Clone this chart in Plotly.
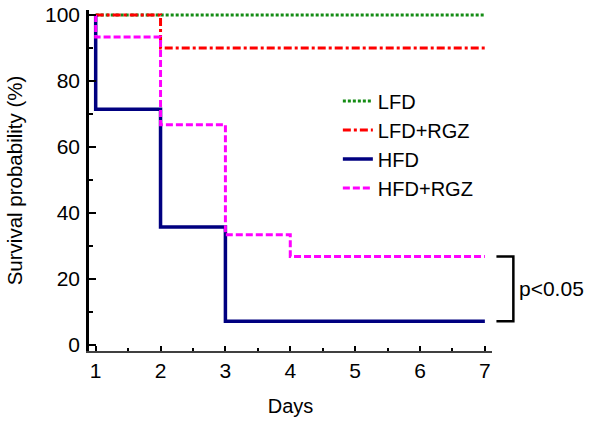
import plotly.graph_objects as go

# ---- data (Kaplan-Meier step curves) ----
lfd_days = [1, 7]
lfd_surv = [100, 100]

lfd_rgz_days = [1, 2, 7]
lfd_rgz_surv = [100, 90, 90]

hfd_days = [1, 1, 2, 3, 7]
hfd_surv = [100, 71.4, 35.7, 7.1, 7.1]

hfd_rgz_days = [1, 1, 2, 3, 4, 7]
hfd_rgz_surv = [100, 93.3, 66.7, 33.3, 26.7, 26.7]

x_ticks = [1, 2, 3, 4, 5, 6, 7]
y_ticks = [0, 20, 40, 60, 80, 100]
p_label = "p<0.05"

FONT = "Arial, 'Liberation Sans', sans-serif"

series = [
    ("LFD", lfd_days, lfd_surv, "#148c14", "3px,2px", 3),
    ("LFD+RGZ", lfd_rgz_days, lfd_rgz_surv, "#ff0000", "8px,3px,3px,3px", 3),
    ("HFD", hfd_days, hfd_surv, "#000080", "solid", 3.5),
    ("HFD+RGZ", hfd_rgz_days, hfd_rgz_surv, "#ff00ff", "7px,3px", 3),
]

fig = go.Figure()
for name, xs, ys, col, dash, w in series:
    fig.add_trace(go.Scatter(
        x=xs, y=ys, mode="lines", name=name, legendgroup=name,
        line=dict(color=col, dash=dash, width=w, shape="hv"),
    ))

# bracket for significance between HFD and HFD+RGZ end points
y_top = hfd_rgz_surv[-1]
y_bot = hfd_surv[-1]
bx0, bx1 = 1.011, 1.053
fig.add_shape(type="path", xref="paper", yref="y",
              path=f"M {bx0},{y_top} L {bx1},{y_top} L {bx1},{y_bot} L {bx0},{y_bot}",
              line=dict(color="black", width=2.5))
fig.add_annotation(x=1.063, xref="paper", y=(y_top + y_bot) / 2, yref="y",
                   text=p_label, showarrow=False, xanchor="left", yanchor="middle",
                   font=dict(family=FONT, size=21, color="black"))

fig.update_layout(
    width=591, height=427,
    margin=dict(l=89, r=99, t=10, b=76, autoexpand=False),
    paper_bgcolor="white", plot_bgcolor="white",
    font=dict(family=FONT, size=20, color="black"),
    showlegend=True,
    legend=dict(x=0.6175, y=0.79, xanchor="left", yanchor="top",
                bgcolor="rgba(0,0,0,0)", font=dict(family=FONT, size=20),
                tracegroupgap=0, itemwidth=30),
)
fig.update_xaxes(
    range=[0.897, 7.11], tickvals=x_ticks, ticktext=[str(v) for v in x_ticks],
    showgrid=False, zeroline=False, automargin=False,
    showline=True, linecolor="#404040", linewidth=2,
    ticks="inside", ticklen=5, tickwidth=2, tickcolor="black",
    minor=dict(ticks="inside", ticklen=3, tickwidth=2, dtick=0.5, tick0=0.5, tickcolor="black"),
    tickfont=dict(size=21),
    title=dict(text="Days", font=dict(size=20), standoff=18),
)
fig.update_yaxes(
    range=[-1.94, 101.5], tickvals=y_ticks, ticktext=[str(v) for v in y_ticks],
    showgrid=False, zeroline=False, automargin=False,
    showline=True, linecolor="black", linewidth=2.5,
    ticks="inside", ticklen=7, tickwidth=2, tickcolor="black",
    minor=dict(ticks="inside", ticklen=4, tickwidth=2, dtick=10, tick0=10, tickcolor="black"),
    tickfont=dict(size=21), ticklabelstandoff=2,
    title=dict(text="Survival probability (%)", font=dict(size=20.5), standoff=17),
)

fig.write_html("out.html", config={"displayModeBar": False},
               post_script="document.body.style.margin='0px';")
